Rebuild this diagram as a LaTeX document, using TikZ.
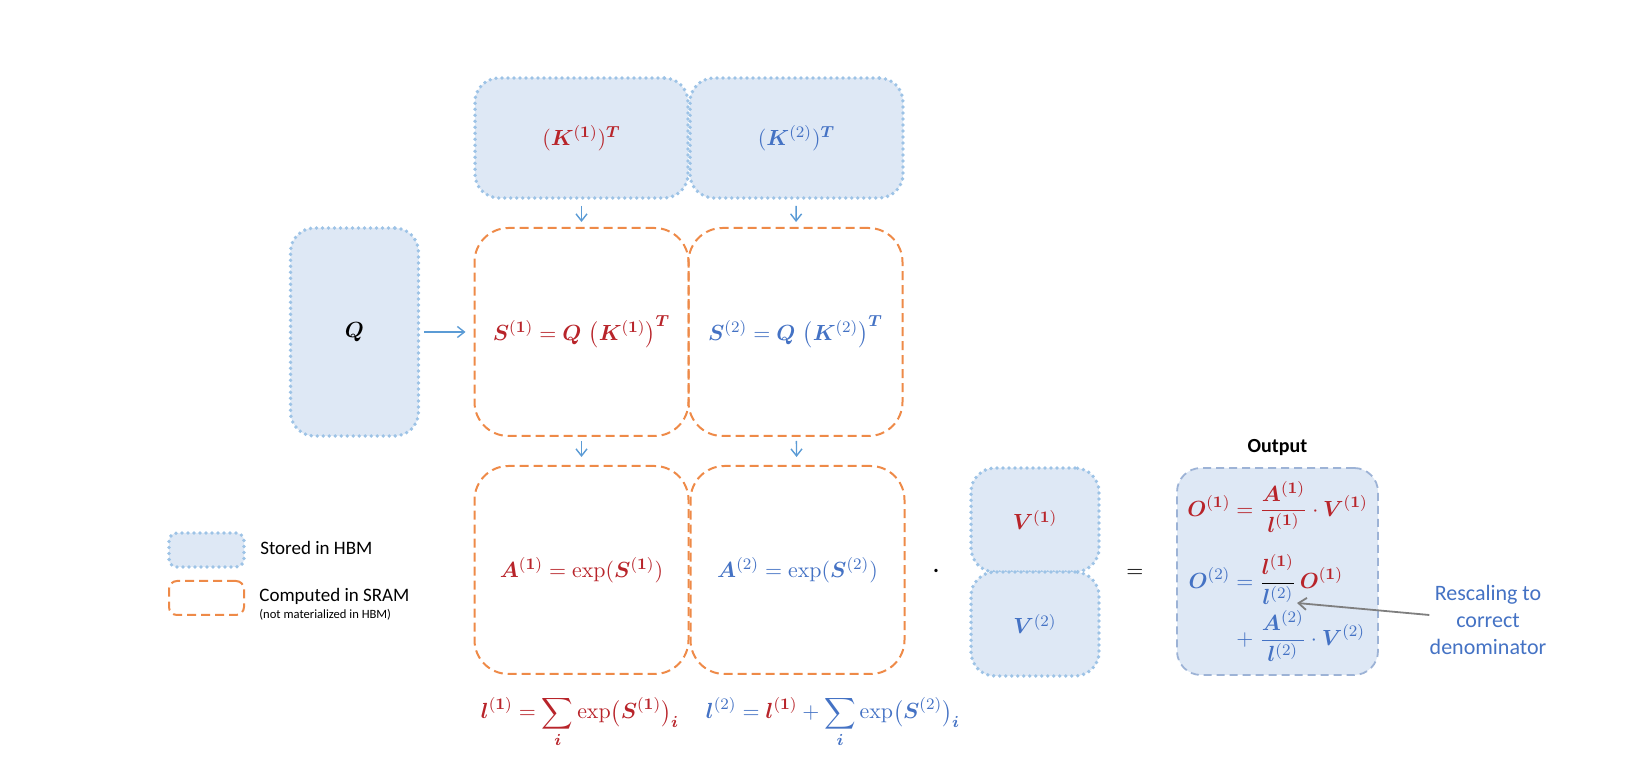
\documentclass[tikz,border=0pt]{standalone}
\usepackage{amsmath,bm}
\usepackage[no-math]{fontspec}
\setmainfont{Carlito}
\usetikzlibrary{positioning,arrows.meta}

\definecolor{hred}{HTML}{B8242A}
\definecolor{hblue}{HTML}{4472C4}
\definecolor{sramor}{HTML}{EE8A48}
\definecolor{hbmfill}{HTML}{DEE8F5}
\definecolor{hbmline}{HTML}{9DC3E6}
\definecolor{arrblue}{HTML}{5B9BD5}
\definecolor{outline}{HTML}{9DB3D6}
\definecolor{notegray}{HTML}{7F7F7F}

\newcommand{\redpart}[1]{{\color{hred}#1}}
\newcommand{\bluepart}[1]{{\color{hblue}#1}}

\begin{document}
\begin{tikzpicture}[x=0.5pt,y=-0.5pt,on grid,
  hbm/.style={draw=hbmline,fill=hbmfill,line width=1.9pt,
    dash pattern=on 0pt off 3pt,line cap=round,rounded corners=12pt},
  sram/.style={draw=sramor,line width=1pt,dash pattern=on 4.5pt off 2.5pt,
    rounded corners=17pt},
  kbox/.style={hbm,minimum width=106.5pt,minimum height=60pt},
  sbox/.style={sram,minimum width=107pt,minimum height=104pt},
  vbox/.style={hbm,minimum width=64pt,minimum height=52pt},
  flow/.style={-{Straight Barb[length=3.5pt,width=5.5pt]},arrblue,line width=0.7pt},
  eq/.style={font=\fontsize{11}{13}\selectfont},
  legtext/.style={inner sep=0pt,font=\fontsize{9.5}{11}\selectfont},
  legnote/.style={inner sep=0pt,font=\fontsize{6.3}{7.5}\selectfont}]
  \useasboundingbox (0,0) rectangle (1644,779);

  % keys in HBM
  \node[kbox,eq] (k1) at (581.5,138)
    {$\redpart{(\bm{K}^{(\mathbf{1})})^{\bm{T}}}$};
  \node[kbox,eq] (k2) [right=107.5pt of k1]
    {$\bluepart{(\bm{K}^{(2)})^{\bm{T}}}$};

  % blocks computed in SRAM
  \node[sbox,eq] (s1) [below=97pt of k1]
    {$\redpart{\bm{S}^{(\mathbf{1})}=\bm{Q}\,\left(\bm{K}^{(\mathbf{1})}\right)^{\bm{T}}}$};
  \node[sbox,eq] (s2) [right=107pt of s1]
    {$\bluepart{\bm{S}^{(2)}=\bm{Q}\,\left(\bm{K}^{(2)}\right)^{\bm{T}}}$};
  \node[sbox,eq] (a1) [below=119pt of s1]
    {$\redpart{\bm{A}^{(\mathbf{1})}=\exp(\bm{S}^{(\mathbf{1})})}$};
  \node[sbox,eq] (a2) [right=108pt of a1]
    {$\bluepart{\bm{A}^{(2)}=\exp(\bm{S}^{(2)})}$};

  \node[hbm,eq,minimum width=64pt,minimum height=104pt] (q) [left=113.5pt of s1]
    {$\bm{Q}$};

  % values
  \node[vbox,eq] (v1) at (1035,520) {$\redpart{\bm{V}^{(\mathbf{1})}}$};
  \node[vbox,eq] (v2) [below=52pt of v1] {$\bluepart{\bm{V}^{(2)}}$};
  \node[eq] (dot) at (936,571) {$\bm{\cdot}$};
  \node[eq] (equal) at (1135,573) {$=$};

  % output
  \node[hbm,eq,draw=outline,dash pattern=on 4pt off 2.5pt,line width=0.9pt,
    line cap=butt,minimum width=100.5pt,minimum height=103.5pt] (out) at (1277.5,571.5)
    {$\begin{aligned}
      \color{hred}\bm{O}^{(\mathbf{1})} &\color{hred}=\frac{\bm{A}^{(\mathbf{1})}}{\bm{l}^{(\mathbf{1})}}\cdot\bm{V}^{(\mathbf{1})}\\[7pt]
      \color{hblue}\bm{O}^{(2)} &\color{hblue}={\color{black}\frac{\redpart{\bm{l}^{(\mathbf{1})}}}{\bluepart{\bm{l}^{(2)}}}}\,\redpart{\bm{O}^{(\mathbf{1})}}\\[-1pt]
      &\color{hblue}\mathrel{+}\frac{\bm{A}^{(2)}}{\bm{l}^{(2)}}\cdot\bm{V}^{(2)}
    \end{aligned}$};
  \node[font=\bfseries\fontsize{10}{12}\selectfont] (outlbl) [above=62pt of out] {Output};

  % normalisers
  \node[eq] (l1) at (580,722)
    {$\displaystyle\redpart{\bm{l}^{(\mathbf{1})}=\sum_{\bm{i}}\exp\bigl(\bm{S}^{(\mathbf{1})}\bigr)_{\bm{i}}}$};
  \node[eq] (l2) at (833,722)
    {$\displaystyle\bluepart{\bm{l}^{(2)}=\redpart{\bm{l}^{(\mathbf{1})}}+\sum_{\bm{i}}\exp\bigl(\bm{S}^{(2)}\bigr)_{\bm{i}}}$};

  % rescaling note
  \node[font=\fontsize{11}{13.5}\selectfont,text=hblue,align=center,inner sep=0pt]
    (resc) at (1488,620) {Rescaling to\\correct\\denominator};
  \coordinate (den) at (1297,603);
  \draw[-{Straight Barb[length=4pt,width=6pt]},notegray,line width=0.9pt]
    ([yshift=2.5pt]resc.west) -- (den);

  % legend
  \node[hbm,minimum width=37.5pt,minimum height=17pt,rounded corners=4pt] (lhbm) at (206.5,550) {};
  \node[sram,minimum width=37.5pt,minimum height=17pt,rounded corners=4pt] (lsram) at (206.5,598) {};
  \node[legtext,anchor=west] (thbm) at ([xshift=7pt,yshift=1pt]lhbm.east) {Stored in HBM};
  \node[legtext,anchor=west] (tsram) at ([xshift=7pt,yshift=1pt]lsram.east) {Computed in SRAM};
  \node[legnote,anchor=north west] (tnote) at ([yshift=-2pt]tsram.south west) {(not materialized in HBM)};

  \draw[flow,shorten <=3pt,shorten >=2.5pt] (k1) -- (s1);
  \draw[flow,shorten <=3pt,shorten >=2.5pt] (k2) -- (s2);
  \draw[flow,shorten <=2pt,shorten >=4pt] (s1) -- (a1);
  \draw[flow,shorten <=2pt,shorten >=4pt] (s2) -- (a2);
  \draw[flow,shorten <=2pt,shorten >=4pt] (q) -- (s1);
\end{tikzpicture}
\end{document}
